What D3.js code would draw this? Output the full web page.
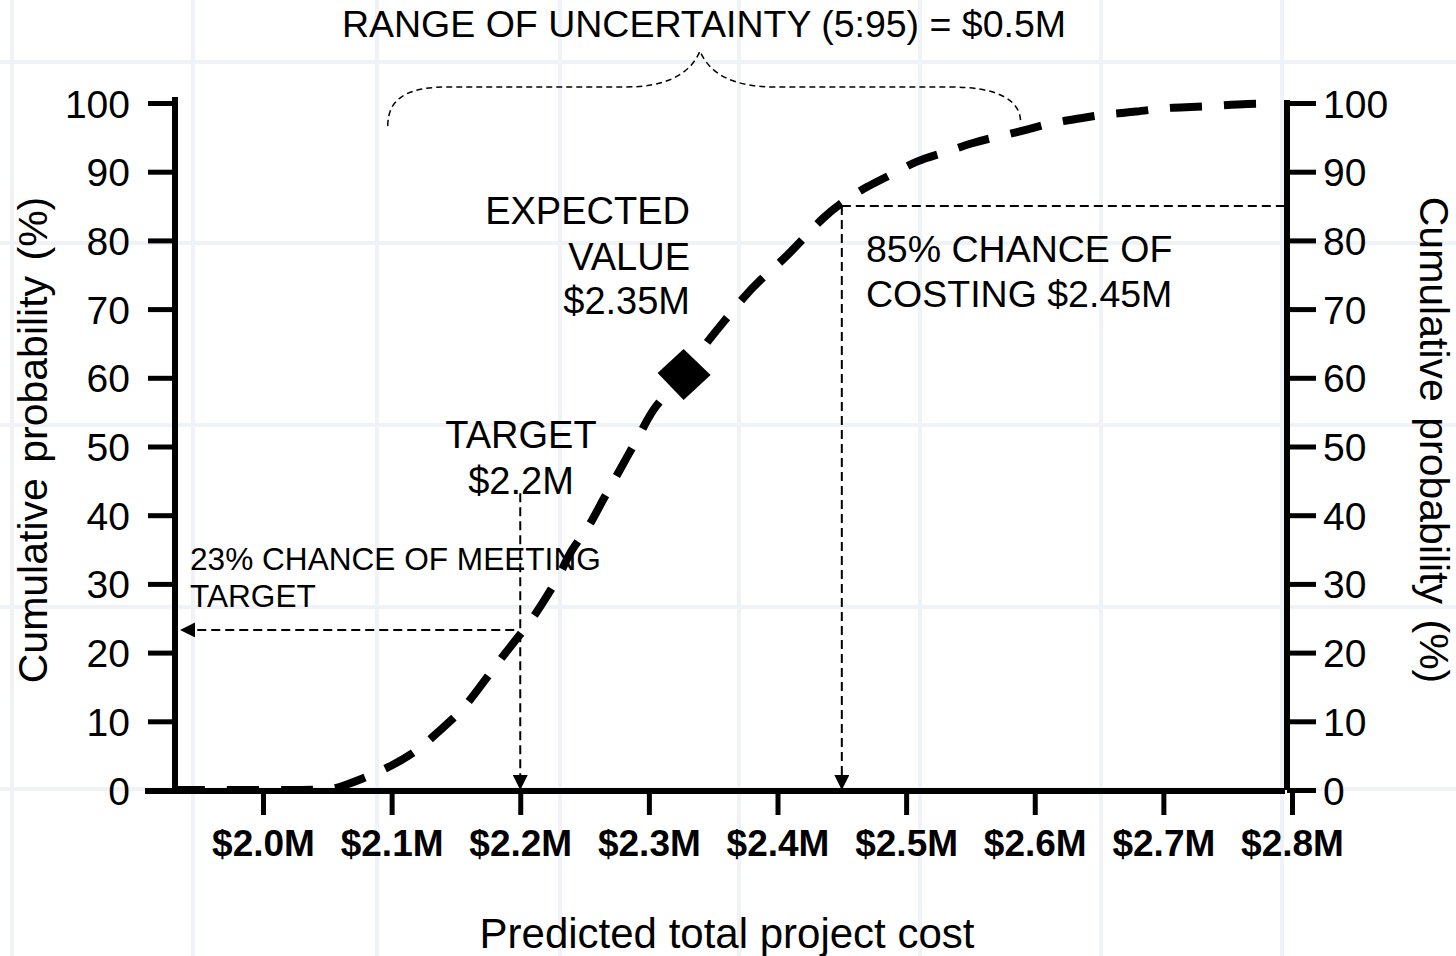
<!DOCTYPE html>
<html>
<head>
<meta charset="utf-8">
<script src="https://cdn.jsdelivr.net/npm/d3@7"></script>
<style>
  html, body { margin: 0; padding: 0; background: #ffffff; }
  svg { display: block; font-family: "Liberation Sans", Arial, sans-serif; }
</style>
</head>
<body>
<svg id="chart" width="1456" height="956"></svg>
<script>
// ---------------- data ----------------
const costM = [1.93, 2.00, 2.05, 2.06, 2.081, 2.101, 2.121, 2.135, 2.153, 2.166, 2.18, 2.192, 2.208, 2.218,
  2.231, 2.239, 2.253, 2.262, 2.274, 2.283, 2.295, 2.303, 2.327, 2.345, 2.358, 2.373, 2.386, 2.404, 2.418,
  2.435, 2.451, 2.47, 2.488, 2.509, 2.529, 2.551, 2.571, 2.594, 2.612, 2.637, 2.655, 2.68, 2.699, 2.722,
  2.742, 2.766, 2.785];
const cumProb = [0, 0, 0, 0.4, 1.9, 3.6, 5.8, 8.3, 11.2, 14.3, 17.9, 20.8, 24.5, 27.4,
  31.3, 34.9, 38.1, 41.5, 45.4, 48.5, 52.4, 55.6, 60.4, 65.2, 68.1, 71.6, 74.2, 77.1, 79.8,
  83.3, 85.7, 87.9, 89.5, 91.7, 92.7, 94.2, 95.1, 96.1, 97.1, 97.8, 98.4, 98.7, 99.3, 99.4,
  99.6, 99.9, 99.9];

const xTickValues = [2.0, 2.1, 2.2, 2.3, 2.4, 2.5, 2.6, 2.7, 2.8];
const xTickLabels = ["$2.0M", "$2.1M", "$2.2M", "$2.3M", "$2.4M", "$2.5M", "$2.6M", "$2.7M", "$2.8M"];
const yTickValues = [0, 10, 20, 30, 40, 50, 60, 70, 80, 90, 100];

const expectedPoint = { cost: 2.327, prob: 60.4 };
const targetPoint = { cost: 2.2, prob: 23.3, labelTop: 43.2 };
const p85Point = { cost: 2.45, prob: 85 };
const rangeBrace = { from: 2.097, to: 2.589 };

const titleText = "RANGE OF UNCERTAINTY (5:95) = $0.5M";
const xTitle = "Predicted total project cost";
const yTitle = "Cumulative  probability  (%)";

// ---------------- layout ----------------
const svg = d3.select("#chart");
const leftAxisX = 175, rightAxisX = 1287;
const x = d3.scaleLinear().domain([2.0, 2.8]).range([263, 1292]);
const y = d3.scaleLinear().domain([0, 100]).range([790, 103]);
const FONT = '"Liberation Sans", Arial, sans-serif';

// faint background grid
const gridXs = [12, 193, 377, 560, 739, 920, 1101, 1282];
const gridYs = [62, 243, 425, 607, 789];
const bg = svg.append("g");
bg.selectAll("line.gx").data(gridXs).join("line")
  .attr("x1", d => d).attr("x2", d => d).attr("y1", 0).attr("y2", 956)
  .attr("stroke", "#eff2f6").attr("stroke-width", 4);
bg.selectAll("line.gy").data(gridYs).join("line")
  .attr("y1", d => d).attr("y2", d => d).attr("x1", 0).attr("x2", 1456)
  .attr("stroke", "#eff2f6").attr("stroke-width", 4);

// ---------------- axes ----------------
const gLeft = svg.append("g").attr("transform", `translate(${leftAxisX},0)`)
  .call(d3.axisLeft(y).tickValues(yTickValues).tickSize(27).tickPadding(18));
gLeft.select(".domain").remove();
gLeft.selectAll(".tick line").attr("stroke", "#000").attr("stroke-width", 5);
gLeft.selectAll(".tick text").attr("font-family", FONT).attr("font-size", 39).attr("fill", "#000").attr("dy", "0.36em");

const gRight = svg.append("g").attr("transform", `translate(${rightAxisX},0)`)
  .call(d3.axisRight(y).tickValues(yTickValues).tickSize(29).tickPadding(7));
gRight.select(".domain").remove();
gRight.selectAll(".tick line").attr("stroke", "#000").attr("stroke-width", 5);
gRight.selectAll(".tick text").attr("font-family", FONT).attr("font-size", 39).attr("fill", "#000").attr("dy", "0.36em");

const gBottom = svg.append("g").attr("transform", `translate(0,${y(0)})`)
  .call(d3.axisBottom(x).tickValues(xTickValues).tickFormat((d, i) => xTickLabels[i]).tickSize(25).tickPadding(15));
gBottom.select(".domain").remove();
gBottom.selectAll(".tick line").attr("stroke", "#000").attr("stroke-width", 5);
gBottom.selectAll(".tick text").attr("font-family", FONT).attr("font-size", 37).attr("font-weight", "bold").attr("fill", "#000");

// axis spines
svg.append("line").attr("x1", leftAxisX).attr("x2", leftAxisX).attr("y1", 97).attr("y2", y(0) + 3)
  .attr("stroke", "#000").attr("stroke-width", 6);
svg.append("line").attr("x1", rightAxisX).attr("x2", rightAxisX).attr("y1", 100).attr("y2", y(0))
  .attr("stroke", "#000").attr("stroke-width", 6);
svg.append("line").attr("x1", 145).attr("x2", rightAxisX - 2).attr("y1", y(0) + 1).attr("y2", y(0) + 1)
  .attr("stroke", "#000").attr("stroke-width", 6);

// ---------------- arrow marker ----------------
const defs = svg.append("defs");
defs.append("marker").attr("id", "arrow")
  .attr("viewBox", "0 0 10 10").attr("refX", 10).attr("refY", 5)
  .attr("markerWidth", 15).attr("markerHeight", 15).attr("markerUnits", "userSpaceOnUse")
  .attr("orient", "auto")
  .append("path").attr("d", "M0,0 L10,5 L0,10 Z").attr("fill", "#000");

const thinDash = "9,5";
const ann = svg.append("g").attr("fill", "none").attr("stroke", "#000").attr("stroke-width", 2).attr("stroke-dasharray", thinDash);

ann.append("line").attr("x1", x(targetPoint.cost)).attr("x2", x(targetPoint.cost))
  .attr("y1", y(targetPoint.labelTop)).attr("y2", y(0)).attr("marker-end", "url(#arrow)");
ann.append("line").attr("x1", x(targetPoint.cost) - 6).attr("x2", 180)
  .attr("y1", y(targetPoint.prob)).attr("y2", y(targetPoint.prob)).attr("marker-end", "url(#arrow)");
ann.append("line").attr("x1", x(p85Point.cost)).attr("x2", x(p85Point.cost))
  .attr("y1", y(p85Point.prob)).attr("y2", y(0)).attr("marker-end", "url(#arrow)");
ann.append("line").attr("x1", x(p85Point.cost)).attr("x2", rightAxisX - 2)
  .attr("y1", y(p85Point.prob)).attr("y2", y(p85Point.prob));

// range brace
const bx0 = x(rangeBrace.from), bx1 = x(rangeBrace.to);
const bMid = 700, bTop = 51, bLine = 87, bEnd = 126;
const braceD = `M${bx0},${bEnd} C${bx0},${bLine + 8} ${bx0 + 25},${bLine} ${bx0 + 60},${bLine}
  L${bMid - 75},${bLine} C${bMid - 35},${bLine} ${bMid - 10},${bLine - 12} ${bMid},${bTop}
  C${bMid + 10},${bLine - 12} ${bMid + 35},${bLine} ${bMid + 75},${bLine}
  L${bx1 - 70},${bLine} C${bx1 - 25},${bLine} ${bx1},${bLine + 12} ${bx1},${bEnd - 4}`;
svg.append("path").attr("d", braceD).attr("fill", "none").attr("stroke", "#000")
  .attr("stroke-width", 1.5).attr("stroke-dasharray", "6,4");

// ---------------- curve ----------------
const pts = costM.map((c, i) => [c, cumProb[i]]);
const line = d3.line().x(d => x(d[0])).y(d => y(d[1])).curve(d3.curveBasis);
svg.append("path").datum(pts).attr("d", line)
  .attr("fill", "none").attr("stroke", "#000").attr("stroke-width", 8)
  .attr("stroke-dasharray", "32,22");

const ex = x(expectedPoint.cost), ey = y(expectedPoint.prob);
svg.append("path")
  .attr("d", `M${ex - 26},${ey - 2} L${ex},${ey - 26} L${ex + 27},${ey} L${ex},${ey + 25} Z`)
  .attr("fill", "#000");

// ---------------- texts ----------------
const txt = svg.append("g").attr("font-family", FONT).attr("fill", "#000");
txt.append("text").attr("x", 704).attr("y", 37).attr("text-anchor", "middle")
  .attr("font-size", 37.5).text(titleText);

const ev = txt.append("text").attr("text-anchor", "end").attr("font-size", 38);
[["EXPECTED", 224], ["VALUE", 270], ["$2.35M", 314]].forEach(([t, yy]) =>
  ev.append("tspan").attr("x", 690).attr("y", yy).text(t));

const tg = txt.append("text").attr("text-anchor", "middle").attr("font-size", 38);
[["TARGET", 448], ["$2.2M", 494]].forEach(([t, yy]) =>
  tg.append("tspan").attr("x", 521).attr("y", yy).text(t));

const c23 = txt.append("text").attr("font-size", 31.6);
[["23% CHANCE OF MEETING", 570], ["TARGET", 607]].forEach(([t, yy]) =>
  c23.append("tspan").attr("x", 190).attr("y", yy).text(t));

const c85 = txt.append("text").attr("font-size", 37.5);
[["85% CHANCE OF", 262], ["COSTING $2.45M", 307]].forEach(([t, yy]) =>
  c85.append("tspan").attr("x", 866).attr("y", yy).text(t));

txt.append("text").attr("x", 727).attr("y", 948).attr("text-anchor", "middle")
  .attr("font-size", 42).text(xTitle);

txt.append("text").attr("transform", "translate(47,440) rotate(-90)").attr("text-anchor", "middle")
  .attr("font-size", 41).attr("word-spacing", 4).text(yTitle);
txt.append("text").attr("transform", "translate(1420,440) rotate(90)").attr("text-anchor", "middle")
  .attr("font-size", 41).attr("word-spacing", 4).text(yTitle);
</script>
</body>
</html>
